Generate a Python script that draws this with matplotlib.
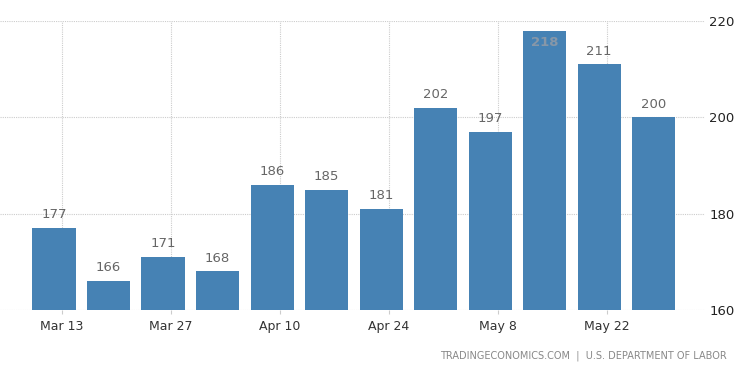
import matplotlib
matplotlib.use("Agg")
import matplotlib.pyplot as plt
import numpy as np

values = [177, 166, 171, 168, 186, 185, 181, 202, 197, 218, 211, 200]
tick_labels = ["Mar 13", "Mar 27", "Apr 10", "Apr 24", "May 8", "May 22"]
tick_bar_index = [0, 2, 4, 6, 8, 10]
y_ticks = [160, 180, 200, 220]

plt.rcParams['font.family'] = ['DejaVu Sans']
fig = plt.figure(figsize=(7.5, 3.73), dpi=100)
ax = fig.add_axes([0.0, 1 - 310 / 373, 705 / 750, (310 - 21) / 373])

x = np.arange(len(values))
bar_color = "#4682b4"
ax.bar(x, [v - 160 for v in values], bottom=160, width=0.79, color=bar_color, zorder=2)

ax.set_ylim(160, 220)
ax.set_xlim(-0.99, 11.94)

tick_pos = [i + 1 / 7 for i in tick_bar_index]
ax.set_xticks(tick_pos)
ax.set_xticklabels(tick_labels, fontsize=9, color="#333333")
ax.set_yticks(y_ticks)
ax.yaxis.tick_right()
ax.set_yticklabels([str(t) for t in y_ticks], fontsize=9.5, color="#222222")
ax.tick_params(axis="x", length=3, color="#cccccc", pad=4)
ax.tick_params(axis="y", length=0, pad=3)

ax.grid(True, color="#cccccc", linestyle=(0, (1, 1)), linewidth=0.8, zorder=0)
for s in ax.spines.values():
    s.set_visible(False)

for xi, v in zip(x, values):
    if v >= 216:
        ax.text(xi, v - 1.2, str(v), ha="center", va="top", fontsize=9.5,
                color="#8797a8", fontweight="bold")
    else:
        ax.text(xi, v + 1.4, str(v), ha="center", va="bottom", fontsize=9.5, color="#666666")

fig.text(727 / 750, 1 - 356 / 373, "TRADINGECONOMICS.COM  |  U.S. DEPARTMENT OF LABOR",
         ha="right", va="center", fontsize=7, color="#888888")

fig.savefig("out.png", dpi=100)
